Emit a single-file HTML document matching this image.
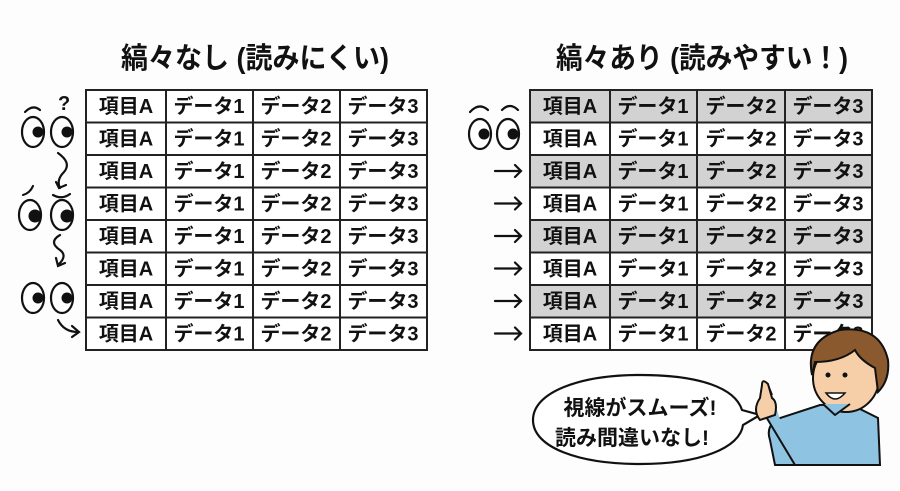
<!DOCTYPE html>
<html><head><meta charset="utf-8"><style>
html,body{margin:0;padding:0;background:#fff;width:900px;height:491px;overflow:hidden}
svg{display:block}
text{font-family:"Liberation Sans","Noto Sans CJK JP",sans-serif;font-weight:bold;fill:#111}
</style></head><body>
<svg width="900" height="491" viewBox="0 0 900 491" xmlns="http://www.w3.org/2000/svg">
<rect width="900" height="491" fill="#fdfdfd"/>
<text x="255" y="68" font-size="29" text-anchor="middle" textLength="268" lengthAdjust="spacingAndGlyphs">縞々なし (読みにくい)</text>
<text x="702" y="68" font-size="29" text-anchor="middle" textLength="292" lengthAdjust="spacingAndGlyphs">縞々あり (読みやすい！)</text>
<g stroke="#222" stroke-width="2" fill="none">
<rect x="86" y="90" width="341" height="260" fill="#fff"/>
<rect x="530" y="90" width="342" height="260" fill="#fff"/>
</g>
<g fill="#d2d2d2">
<rect x="530" y="90" width="342" height="32.5"/>
<rect x="530" y="155" width="342" height="32.5"/>
<rect x="530" y="220" width="342" height="32.5"/>
<rect x="530" y="285" width="342" height="32.5"/>
</g>
<g stroke="#222" stroke-width="2" fill="none">
<rect x="530" y="90" width="342" height="260"/>
<path d="M166 90V350M253 90V350M340 90V350M610 90V350M697 90V350M785 90V350"/>
<path d="M86 122.5H427M86 155H427M86 187.5H427M86 220H427M86 252.5H427M86 285H427M86 317.5H427"/>
<path d="M530 122.5H872M530 155H872M530 187.5H872M530 220H872M530 252.5H872M530 285H872M530 317.5H872"/>
</g>
<g font-size="20" text-anchor="middle">
<text x="126" y="113">項目A</text><text x="209" y="113">データ1</text><text x="296" y="113">データ2</text><text x="383" y="113">データ3</text>
<text x="126" y="145.5">項目A</text><text x="209" y="145.5">データ1</text><text x="296" y="145.5">データ2</text><text x="383" y="145.5">データ3</text>
<text x="126" y="178">項目A</text><text x="209" y="178">データ1</text><text x="296" y="178">データ2</text><text x="383" y="178">データ3</text>
<text x="126" y="210.5">項目A</text><text x="209" y="210.5">データ1</text><text x="296" y="210.5">データ2</text><text x="383" y="210.5">データ3</text>
<text x="126" y="243">項目A</text><text x="209" y="243">データ1</text><text x="296" y="243">データ2</text><text x="383" y="243">データ3</text>
<text x="126" y="275.5">項目A</text><text x="209" y="275.5">データ1</text><text x="296" y="275.5">データ2</text><text x="383" y="275.5">データ3</text>
<text x="126" y="308">項目A</text><text x="209" y="308">データ1</text><text x="296" y="308">データ2</text><text x="383" y="308">データ3</text>
<text x="126" y="340.5">項目A</text><text x="209" y="340.5">データ1</text><text x="296" y="340.5">データ2</text><text x="383" y="340.5">データ3</text>

<text x="570" y="113">項目A</text><text x="653" y="113">データ1</text><text x="741" y="113">データ2</text><text x="828" y="113">データ3</text>
<text x="570" y="145.5">項目A</text><text x="653" y="145.5">データ1</text><text x="741" y="145.5">データ2</text><text x="828" y="145.5">データ3</text>
<text x="570" y="178">項目A</text><text x="653" y="178">データ1</text><text x="741" y="178">データ2</text><text x="828" y="178">データ3</text>
<text x="570" y="210.5">項目A</text><text x="653" y="210.5">データ1</text><text x="741" y="210.5">データ2</text><text x="828" y="210.5">データ3</text>
<text x="570" y="243">項目A</text><text x="653" y="243">データ1</text><text x="741" y="243">データ2</text><text x="828" y="243">データ3</text>
<text x="570" y="275.5">項目A</text><text x="653" y="275.5">データ1</text><text x="741" y="275.5">データ2</text><text x="828" y="275.5">データ3</text>
<text x="570" y="308">項目A</text><text x="653" y="308">データ1</text><text x="741" y="308">データ2</text><text x="828" y="308">データ3</text>
<text x="570" y="340.5">項目A</text><text x="653" y="340.5">データ1</text><text x="741" y="340.5">データ2</text><text x="828" y="340.5">データ3</text>
</g>
<!-- left eyes -->
<g stroke="#111" stroke-width="2.2" fill="#fff">
<ellipse cx="33" cy="132" rx="11" ry="15"/><ellipse cx="62" cy="132" rx="11" ry="15"/>
<ellipse cx="30" cy="215" rx="11" ry="15"/><ellipse cx="62" cy="215" rx="11" ry="15"/>
<ellipse cx="33" cy="298" rx="11" ry="15"/><ellipse cx="62" cy="298" rx="11" ry="15"/>
</g>
<g fill="#111">
<circle cx="38" cy="132" r="5.5"/><circle cx="67" cy="132" r="5.5"/>
<circle cx="35" cy="216" r="6.5"/><circle cx="67" cy="216" r="6.5"/>
<circle cx="38" cy="298" r="5.5"/><circle cx="67" cy="298" r="5.5"/>
</g>
<g stroke="#111" stroke-width="2.2" fill="none" stroke-linecap="round">
<path d="M25 112Q33 104 40 110"/>
<path d="M23 195Q30 193 33 186"/><path d="M53 195Q62 200 70 194"/>
<path d="M58 153Q72 163 64 172Q56 180 60 188M56 182L59 188L66 185"/>
<path d="M60 235Q48 242 60 250Q68 256 58 265M56 258L58 266L65 263"/>
<path d="M58 320Q64 332 78 332M72 326L79 332L72 337"/>
</g>
<text x="58" y="110" font-size="20" font-weight="normal">?</text>
<!-- right eyes -->
<g stroke="#111" stroke-width="2.2" fill="#fff">
<ellipse cx="480" cy="134" rx="11" ry="15"/><ellipse cx="508" cy="134" rx="11" ry="15"/>
</g>
<g fill="#111"><circle cx="484" cy="134" r="5.5"/><circle cx="513" cy="134" r="5.5"/></g>
<g stroke="#111" stroke-width="2.2" fill="none" stroke-linecap="round">
<path d="M470 112Q479 102 488 110"/><path d="M502 110Q510 102 518 110"/>
<path d="M495 171H521M515 165L521 171L515 177"/>
<path d="M495 203.5H521M515 197.5L521 203.5L515 209.5"/>
<path d="M495 236H521M515 230L521 236L515 242"/>
<path d="M495 268.5H521M515 262.5L521 268.5L515 274.5"/>
<path d="M495 301H521M515 295L521 301L515 307"/>
<path d="M495 333.5H521M515 327.5L521 333.5L515 339.5"/>
</g>
<!-- bubble -->
<path d="M640 375C580 375 533 392 533 420C533 448 580 464 640 464C700 464 740 448 743 425L760 415L742 410C735 388 700 375 640 375Z" fill="#fff" stroke="#111" stroke-width="2.2"/>
<text x="640" y="415" font-size="21" text-anchor="middle">視線がスムーズ!</text>
<text x="632" y="445" font-size="21" text-anchor="middle">読み間違いなし!</text>
<!-- person -->
<path d="M775 465L770 440Q765 425 780 418L820 405L850 404L878 418L880 465Z" fill="#8ec3e2" stroke="#111" stroke-width="2"/>
<path d="M795 465L765 415L770 398Q760 380 768 385L772 395" fill="#8ec3e2" stroke="#111" stroke-width="2"/>
<path d="M760 420Q752 410 760 398L762 385Q762 378 768 384L772 398Q778 402 775 415Z" fill="#f6cfa8" stroke="#111" stroke-width="2"/>
<ellipse cx="846" cy="378" rx="33" ry="34" fill="#f6cfa8" stroke="#111" stroke-width="2"/>
<path d="M812 375Q805 340 840 330Q880 325 888 360Q890 380 878 392L875 368Q860 360 855 350Q840 362 815 362Z" fill="#8a5a2e" stroke="#111" stroke-width="2"/>
<circle cx="828" cy="375" r="2.5" fill="#111"/><circle cx="845" cy="375" r="2.5" fill="#111"/>
<path d="M826 393Q835 405 845 393Z" fill="#fff" stroke="#111" stroke-width="1.5"/>
<path d="M823 404L835 415L850 404" fill="#8ec3e2" stroke="#111" stroke-width="2"/>
</svg>
</body></html>
